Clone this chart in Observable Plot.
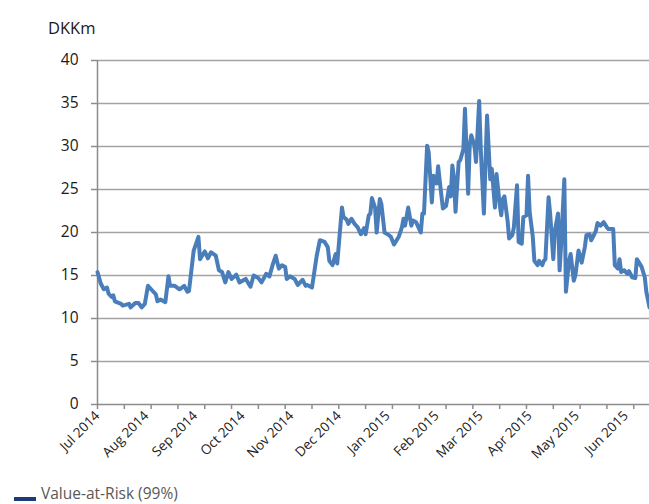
<!DOCTYPE html>
<html><head><meta charset="utf-8">
<script src="https://cdn.jsdelivr.net/npm/d3@7"></script>
<script src="https://cdn.jsdelivr.net/npm/@observablehq/plot@0.6"></script>
<style>
body{margin:0;background:#fff;font-family:"Open Sans",sans-serif;}
#chart{width:649px;height:504px;overflow:hidden;position:relative;background:#fff}
#chart svg{display:block}
.legend{position:relative;height:18px}
.legend .sw{position:absolute;left:14px;top:11px;width:22px;height:4px;background:#1f3a78}
.legend .lb{position:absolute;left:41px;top:-2px;font-size:15.5px;line-height:18px;color:#595959;white-space:nowrap}
</style></head><body><div id="chart"></div><script>
const dates = [
"2014-07-01","2014-07-03","2014-07-05","2014-07-07","2014-07-08","2014-07-10","2014-07-11","2014-07-12","2014-07-16","2014-07-17",
"2014-07-21","2014-07-22","2014-07-25","2014-07-27","2014-07-29","2014-07-31","2014-08-02","2014-08-05","2014-08-07","2014-08-08",
"2014-08-10","2014-08-13","2014-08-15","2014-08-16","2014-08-19","2014-08-22","2014-08-25","2014-08-27","2014-08-28","2014-08-31",
"2014-09-03","2014-09-04","2014-09-07","2014-09-09","2014-09-11","2014-09-14","2014-09-16","2014-09-18","2014-09-20","2014-09-22",
"2014-09-24","2014-09-27","2014-09-29","2014-10-03","2014-10-06","2014-10-08","2014-10-11","2014-10-13","2014-10-16","2014-10-18",
"2014-10-20","2014-10-22","2014-10-24","2014-10-26","2014-10-28","2014-10-29","2014-10-31","2014-11-03","2014-11-05","2014-11-08",
"2014-11-10","2014-11-11","2014-11-14","2014-11-17","2014-11-19","2014-11-22","2014-11-24","2014-11-25","2014-11-27","2014-11-29",
"2014-11-30","2014-12-03","2014-12-04","2014-12-06","2014-12-07","2014-12-09","2014-12-11","2014-12-13","2014-12-15","2014-12-17",
"2014-12-18","2014-12-20","2014-12-21","2014-12-22","2014-12-24","2014-12-25","2014-12-27","2014-12-28","2014-12-30","2015-01-01",
"2015-01-03","2015-01-05","2015-01-06","2015-01-08","2015-01-10","2015-01-11","2015-01-12","2015-01-14","2015-01-16","2015-01-17",
"2015-01-19","2015-01-22","2015-01-23","2015-01-24","2015-01-26","2015-01-27","2015-01-29","2015-01-30","2015-02-01","2015-02-02",
"2015-02-03","2015-02-05","2015-02-07","2015-02-09","2015-02-10","2015-02-11","2015-02-12","2015-02-13","2015-02-15","2015-02-16",
"2015-02-18","2015-02-19","2015-02-21","2015-02-22","2015-02-23","2015-02-25","2015-02-26","2015-02-28","2015-03-01","2015-03-03",
"2015-03-04","2015-03-05","2015-03-07","2015-03-08","2015-03-10","2015-03-11","2015-03-13","2015-03-14","2015-03-15","2015-03-16",
"2015-03-18","2015-03-19","2015-03-21","2015-03-22","2015-03-24","2015-03-25","2015-03-27","2015-03-28","2015-03-30","2015-03-31",
"2015-04-01","2015-04-03","2015-04-04","2015-04-06","2015-04-07","2015-04-09","2015-04-10","2015-04-11","2015-04-13","2015-04-14",
"2015-04-16","2015-04-17","2015-04-19","2015-04-20","2015-04-21","2015-04-23","2015-04-24","2015-04-26","2015-04-27","2015-04-29",
"2015-04-30","2015-05-02","2015-05-04","2015-05-06","2015-05-07","2015-05-09","2015-05-10","2015-05-12","2015-05-13","2015-05-14",
"2015-05-16","2015-05-18","2015-05-20","2015-05-21","2015-05-24","2015-05-25","2015-05-27","2015-05-28","2015-05-29","2015-05-31",
"2015-06-02","2015-06-03","2015-06-05","2015-06-07","2015-06-08","2015-06-11","2015-06-13","2015-06-14","2015-06-16"
];
const values = [
15.4,14.1,13.4,13.6,12.9,12.5,12.7,12.0,11.7,11.5,
11.7,11.3,11.8,11.8,11.3,11.7,13.8,13.2,12.8,12.0,
12.2,11.9,14.9,13.8,13.8,13.4,13.8,13.1,13.2,17.9,
19.5,16.9,17.8,17.0,17.7,17.3,15.6,15.4,14.2,15.4,
14.6,15.1,14.2,14.6,13.7,15.0,14.7,14.2,15.2,14.9,
16.2,17.3,15.8,16.2,16.0,14.6,14.9,14.6,13.9,14.5,
13.8,13.9,13.6,17.3,19.1,18.9,18.3,16.7,16.2,17.5,
16.4,22.9,21.8,21.5,21.0,21.6,21.0,20.6,19.8,20.5,
19.8,22.0,22.2,24.0,22.9,20.0,23.9,23.3,20.0,19.8,
19.5,18.6,18.9,19.5,20.6,21.6,20.8,22.9,20.8,21.4,
21.2,20.0,22.2,22.2,30.1,29.3,23.5,26.6,25.7,27.7,
26.0,22.8,23.1,25.3,24.2,27.8,26.4,22.4,28.2,28.4,
29.7,34.4,24.5,30.1,31.3,30.1,28.2,35.3,29.7,22.2,
28.0,33.6,26.2,27.4,22.9,26.8,23.3,22.0,23.9,24.2,
21.4,19.3,19.7,20.6,25.5,18.9,18.7,21.8,22.0,26.6,
22.4,19.5,16.7,16.2,16.7,16.2,16.7,16.9,24.1,22.2,
16.9,20.2,22.2,15.6,18.7,26.2,13.1,16.7,17.5,14.4,
15.0,17.9,16.5,18.3,19.7,19.8,19.1,19.8,20.2,21.1,
20.8,21.2,20.6,20.4,20.4,16.2,15.8,16.9,15.4,15.6,
15.2,15.5,14.8,14.7,16.9,16.0,14.8,13.1,11.3
];
const monthStarts = ["2014-07-01","2014-08-01","2014-09-01","2014-10-01","2014-11-01","2014-12-01",
  "2015-01-01","2015-02-01","2015-03-01","2015-04-01","2015-05-01","2015-06-01"];
const monthLabels = ["Jul 2014","Aug 2014","Sep 2014","Oct 2014","Nov 2014","Dec 2014",
  "Jan 2015","Feb 2015","Mar 2015","Apr 2015","May 2015","Jun 2015"];
const yTicks = [0,5,10,15,20,25,30,35,40];
const yUnit = "DKKm";
const seriesName = "Value-at-Risk (99%)";

const parse = d3.utcParse("%Y-%m-%d");
const data = dates.map((d, i) => ({date: parse(d), value: values[i]}));
const start = parse("2014-07-01"), end = parse("2015-06-16");
const monthDates = monthStarts.map(parse);
const labelByTime = new Map(monthDates.map((d, i) => [+d, monthLabels[i]]));
const tickMarks = d3.range(21).map(i => d3.utcDay.offset(start, 17 * i));

const plot = Plot.plot({
  width: 649, height: 486,
  marginLeft: 97, marginRight: 0, marginTop: 60, marginBottom: 82,
  style: {fontFamily: "Open Sans", background: "#fff", overflow: "visible"},
  x: {type: "utc", domain: [start, end]},
  y: {domain: [0, 40]},
  marks: [
    Plot.ruleY(yTicks.filter(d => d > 0), {stroke: "#a3a3a3", strokeWidth: 1.5}),
    Plot.ruleX([start], {stroke: "#8c8c8c", strokeWidth: 1.5}),
    Plot.ruleY([0], {stroke: "#8c8c8c", strokeWidth: 1.5}),
    Plot.axisY(yTicks, {tickSize: 6, tickPadding: 13, fontSize: 15.5, label: null,
      stroke: "#8c8c8c", fill: "#1a1a1a", strokeWidth: 1.5}),
    Plot.axisX(tickMarks, {tickSize: 5, fill: "none", stroke: "#8c8c8c", strokeWidth: 1.5, label: null}),
    Plot.axisX(monthDates, {tickSize: 0, tickPadding: 9, tickRotate: -45, fontSize: 13.5,
      fill: "#222", label: null, tickFormat: d => labelByTime.get(+d)}),
    Plot.line(data, {x: "date", y: "value", stroke: "#4a7ebb", strokeWidth: 4,
      strokeLinejoin: "round", strokeLinecap: "round"}),
    Plot.text([yUnit], {text: d => d, frameAnchor: "top-left", textAnchor: "end",
      lineAnchor: "bottom", dx: -2, dy: -27, fontSize: 16.5, fill: "#1a1a1a"})
  ]
});
const chart = document.getElementById("chart");
chart.appendChild(plot);
const legend = document.createElement("div");
legend.className = "legend";
legend.innerHTML = `<span class="sw"></span><span class="lb"></span>`;
legend.querySelector(".lb").textContent = seriesName;
chart.appendChild(legend);
</script></body></html>
